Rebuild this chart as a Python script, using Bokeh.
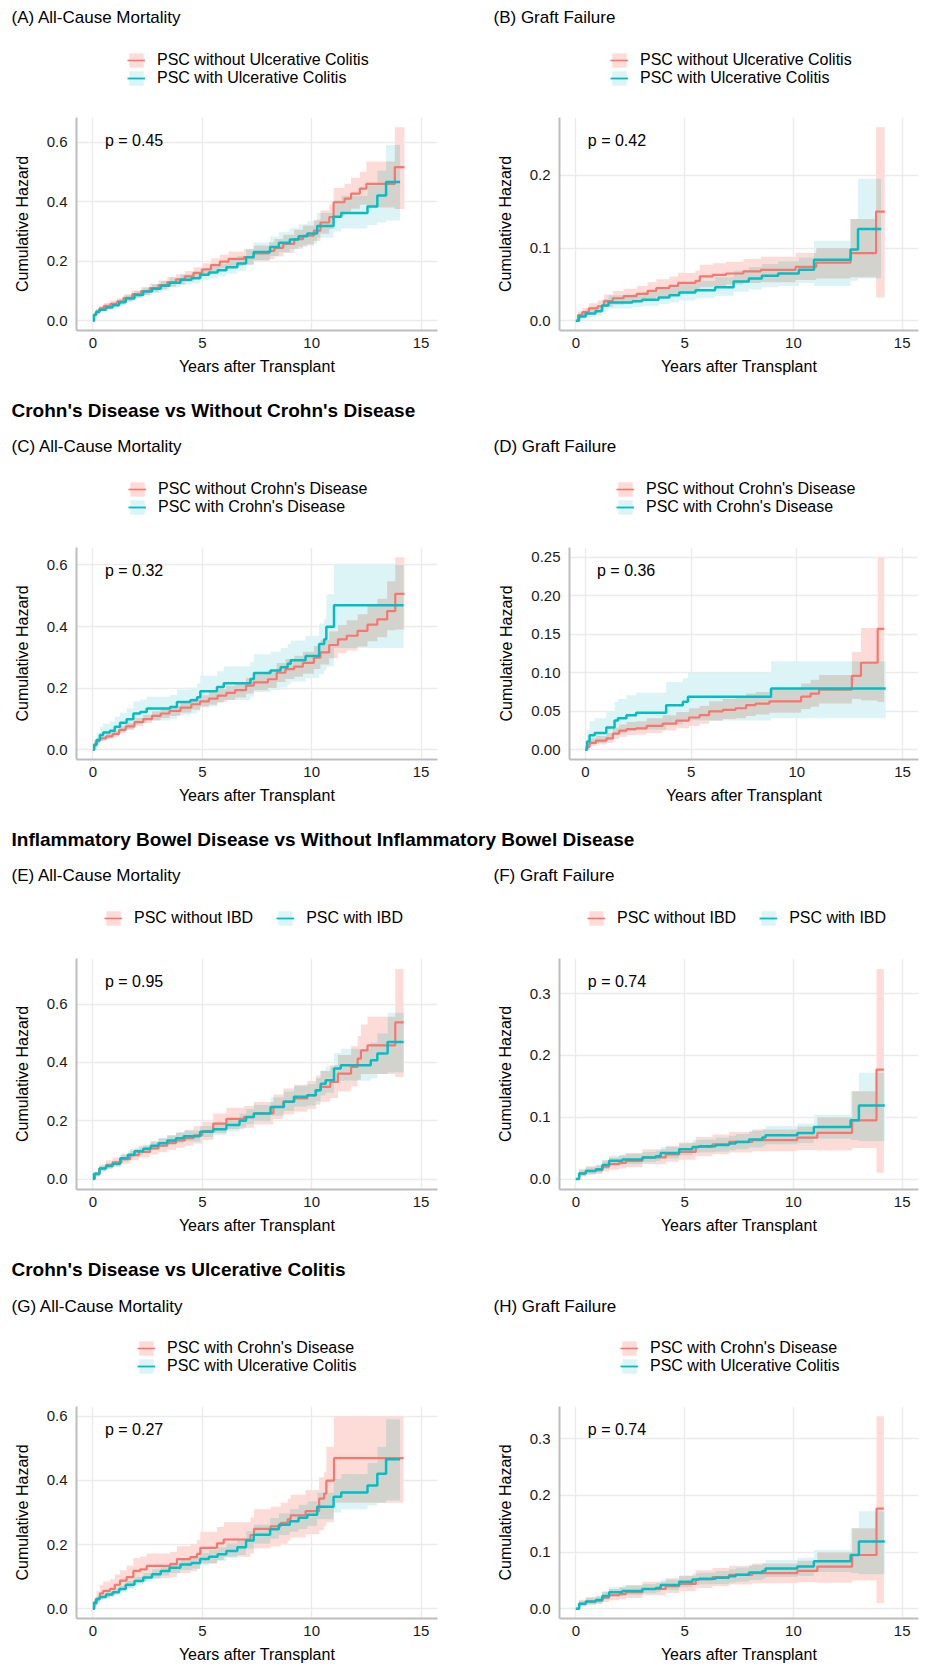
from bokeh.plotting import figure
from bokeh.models import Range1d, Legend, LegendItem, Label, FixedTicker, PrintfTickFormatter
from bokeh.layouts import column, row
from bokeh.embed import file_html
from bokeh.resources import INLINE

FONT = "Liberation Sans"
RED = "#F8766D"
TEAL = "#00BFC4"
RED_BAND = "#FDDCD7"
TEAL_BAND = "#DCF4F5"
GRAY_BAND = "#D3D3CE"
NAN = float("nan")

# ---------------- data ----------------
x_ticks = [0, 5, 10, 15]
x_limits = [0, 15]
ticks_mort = [0.0, 0.2, 0.4, 0.6]
ticks_graft_b = [0.0, 0.1, 0.2]
ticks_graft_d = [0.0, 0.05, 0.10, 0.15, 0.20, 0.25]
ticks_graft_f = [0.0, 0.1, 0.2, 0.3]

# All-cause mortality, PSC without ulcerative colitis
mort_no_uc_t = [0.0, 0.05, 0.15, 0.3, 0.5, 0.8, 1.1, 1.4, 1.8, 2.2, 2.6, 3.0, 3.4, 3.8, 4.2, 4.6, 5.0, 5.4, 5.8, 6.2, 6.9, 7.35, 8.05, 8.3, 8.7, 9.2, 9.6, 10.1, 10.4, 10.8, 11.0, 11.5, 11.8, 12.2, 12.5, 13.8, 14.24]
mort_no_uc_est = [0.0, 0.02, 0.032, 0.042, 0.05, 0.057, 0.065, 0.077, 0.09, 0.1, 0.11, 0.12, 0.13, 0.139, 0.149, 0.161, 0.173, 0.187, 0.199, 0.208, 0.214, 0.226, 0.235, 0.245, 0.258, 0.274, 0.286, 0.303, 0.33, 0.348, 0.398, 0.41, 0.427, 0.444, 0.46, 0.516, 0.516]
mort_no_uc_lo = [0.0, 0.014, 0.025, 0.034, 0.041, 0.048, 0.055, 0.066, 0.078, 0.087, 0.096, 0.105, 0.114, 0.122, 0.131, 0.142, 0.153, 0.165, 0.176, 0.184, 0.189, 0.2, 0.207, 0.216, 0.228, 0.242, 0.253, 0.268, 0.292, 0.308, 0.352, 0.362, 0.376, 0.39, 0.38, 0.375, 0.375]
mort_no_uc_hi = [0.0, 0.028, 0.04, 0.051, 0.06, 0.067, 0.076, 0.089, 0.102, 0.113, 0.124, 0.135, 0.147, 0.156, 0.167, 0.18, 0.193, 0.209, 0.222, 0.233, 0.24, 0.253, 0.264, 0.275, 0.289, 0.306, 0.32, 0.339, 0.37, 0.39, 0.446, 0.46, 0.48, 0.5, 0.535, 0.65, 0.65]

# All-cause mortality, PSC with ulcerative colitis
mort_uc_t = [0.0, 0.05, 0.15, 0.3, 0.6, 0.9, 1.2, 1.5, 1.9, 2.3, 2.7, 3.1, 3.5, 4.0, 4.5, 4.9, 5.3, 5.7, 6.1, 6.6, 7.0, 7.35, 8.1, 8.5, 9.0, 9.4, 9.8, 10.25, 11.0, 11.35, 12.55, 13.0, 13.4, 14.04]
mort_uc_est = [0.0, 0.02, 0.03, 0.037, 0.045, 0.052, 0.062, 0.075, 0.087, 0.098, 0.108, 0.118, 0.128, 0.138, 0.143, 0.155, 0.162, 0.17, 0.18, 0.192, 0.213, 0.231, 0.248, 0.262, 0.273, 0.284, 0.293, 0.318, 0.349, 0.362, 0.384, 0.421, 0.466, 0.466]
mort_uc_lo = [0.0, 0.014, 0.023, 0.03, 0.037, 0.043, 0.052, 0.064, 0.075, 0.085, 0.094, 0.103, 0.112, 0.121, 0.125, 0.136, 0.142, 0.149, 0.158, 0.168, 0.187, 0.203, 0.218, 0.23, 0.24, 0.249, 0.257, 0.279, 0.3, 0.31, 0.322, 0.33, 0.337, 0.337]
mort_uc_hi = [0.0, 0.027, 0.038, 0.045, 0.054, 0.062, 0.073, 0.087, 0.1, 0.112, 0.123, 0.134, 0.145, 0.156, 0.162, 0.175, 0.183, 0.192, 0.204, 0.218, 0.242, 0.263, 0.283, 0.298, 0.311, 0.324, 0.335, 0.362, 0.405, 0.42, 0.455, 0.505, 0.59, 0.59]

# Graft failure, PSC without ulcerative colitis
graft_no_uc_t = [0.0, 0.1, 0.3, 0.6, 1.0, 1.3, 1.7, 2.2, 2.8, 3.3, 3.7, 4.3, 4.7, 5.5, 5.7, 6.3, 6.9, 7.7, 8.5, 10.1, 11.05, 12.63, 13.8, 14.2]
graft_no_uc_est = [0.0, 0.008, 0.012, 0.017, 0.02, 0.027, 0.031, 0.034, 0.037, 0.041, 0.045, 0.048, 0.052, 0.055, 0.061, 0.063, 0.065, 0.068, 0.07, 0.074, 0.08, 0.093, 0.15, 0.15]
graft_no_uc_lo = [0.0, 0.004, 0.007, 0.011, 0.013, 0.019, 0.022, 0.024, 0.027, 0.03, 0.033, 0.036, 0.039, 0.042, 0.046, 0.048, 0.05, 0.052, 0.053, 0.056, 0.058, 0.06, 0.032, 0.032]
graft_no_uc_hi = [0.0, 0.013, 0.018, 0.024, 0.028, 0.036, 0.041, 0.044, 0.048, 0.053, 0.057, 0.061, 0.066, 0.069, 0.077, 0.079, 0.081, 0.085, 0.088, 0.093, 0.1, 0.14, 0.266, 0.266]

# Graft failure, PSC with ulcerative colitis
graft_uc_t = [0.0, 0.15, 0.45, 0.9, 1.2, 1.5, 2.6, 3.05, 3.8, 4.3, 4.75, 5.5, 6.4, 7.25, 7.95, 8.55, 9.3, 10.25, 10.95, 12.63, 12.97, 14.04]
graft_uc_est = [0.0, 0.006, 0.01, 0.013, 0.021, 0.025, 0.027, 0.029, 0.032, 0.035, 0.039, 0.042, 0.046, 0.054, 0.058, 0.062, 0.065, 0.07, 0.084, 0.098, 0.126, 0.126]
graft_uc_lo = [0.0, 0.002, 0.005, 0.007, 0.013, 0.017, 0.019, 0.02, 0.023, 0.025, 0.028, 0.031, 0.034, 0.04, 0.043, 0.046, 0.048, 0.052, 0.048, 0.055, 0.058, 0.058]
graft_uc_hi = [0.0, 0.011, 0.016, 0.019, 0.03, 0.035, 0.037, 0.04, 0.043, 0.047, 0.051, 0.055, 0.06, 0.069, 0.074, 0.078, 0.082, 0.087, 0.11, 0.14, 0.195, 0.195]

# All-cause mortality, PSC without Crohn's disease
mort_no_cd_t = [0.0, 0.05, 0.15, 0.3, 0.6, 0.9, 1.2, 1.5, 1.9, 2.3, 2.7, 3.1, 3.5, 4.0, 4.5, 4.9, 5.3, 5.7, 6.1, 6.5, 7.0, 7.35, 8.0, 8.4, 8.8, 9.2, 9.6, 10.1, 10.4, 10.8, 11.2, 11.6, 12.1, 12.55, 13.0, 13.45, 13.82, 14.24]
mort_no_cd_est = [0.0, 0.018, 0.028, 0.037, 0.044, 0.052, 0.065, 0.076, 0.09, 0.1, 0.11, 0.118, 0.126, 0.137, 0.148, 0.157, 0.166, 0.176, 0.185, 0.194, 0.208, 0.219, 0.229, 0.25, 0.262, 0.27, 0.282, 0.299, 0.316, 0.34, 0.358, 0.37, 0.386, 0.406, 0.423, 0.45, 0.506, 0.506]
mort_no_cd_lo = [0.0, 0.012, 0.021, 0.029, 0.036, 0.043, 0.055, 0.065, 0.078, 0.087, 0.096, 0.103, 0.11, 0.12, 0.13, 0.138, 0.146, 0.155, 0.162, 0.17, 0.183, 0.193, 0.201, 0.22, 0.23, 0.237, 0.247, 0.262, 0.277, 0.297, 0.313, 0.322, 0.335, 0.352, 0.365, 0.388, 0.39, 0.39]
mort_no_cd_hi = [0.0, 0.025, 0.036, 0.046, 0.053, 0.062, 0.076, 0.088, 0.103, 0.114, 0.125, 0.134, 0.143, 0.155, 0.167, 0.177, 0.187, 0.198, 0.208, 0.218, 0.234, 0.247, 0.258, 0.282, 0.295, 0.305, 0.318, 0.337, 0.357, 0.385, 0.405, 0.42, 0.44, 0.467, 0.49, 0.547, 0.625, 0.625]

# All-cause mortality, PSC with Crohn's disease
mort_cd_t = [0.0, 0.06, 0.17, 0.32, 0.47, 0.78, 1.0, 1.24, 1.54, 1.85, 2.16, 2.46, 3.53, 3.84, 4.45, 4.76, 4.91, 5.67, 5.98, 7.2, 7.36, 8.12, 8.58, 8.9, 9.04, 9.72, 10.34, 10.57, 10.67, 11.02, 14.2]
mort_cd_est = [0.0, 0.016, 0.032, 0.048, 0.056, 0.062, 0.075, 0.088, 0.099, 0.118, 0.123, 0.134, 0.139, 0.155, 0.161, 0.171, 0.19, 0.204, 0.216, 0.23, 0.249, 0.257, 0.268, 0.279, 0.291, 0.304, 0.343, 0.359, 0.399, 0.469, 0.469]
mort_cd_lo = [0.0, 0.006, 0.016, 0.028, 0.034, 0.039, 0.048, 0.058, 0.066, 0.082, 0.086, 0.095, 0.099, 0.112, 0.117, 0.125, 0.141, 0.152, 0.162, 0.172, 0.188, 0.194, 0.203, 0.212, 0.222, 0.232, 0.245, 0.258, 0.27, 0.33, 0.33]
mort_cd_hi = [0.0, 0.035, 0.055, 0.075, 0.085, 0.092, 0.107, 0.12, 0.135, 0.158, 0.163, 0.172, 0.178, 0.195, 0.202, 0.215, 0.24, 0.255, 0.27, 0.285, 0.31, 0.318, 0.33, 0.343, 0.355, 0.37, 0.41, 0.425, 0.505, 0.6, 0.6]

# Graft failure, PSC without Crohn's disease
graft_no_cd_t = [0.0, 0.05, 0.2, 0.5, 1.0, 1.3, 1.6, 1.95, 2.4, 2.9, 3.65, 4.3, 4.9, 5.4, 5.85, 6.5, 7.1, 7.6, 8.05, 8.7, 10.2, 10.65, 11.05, 12.6, 13.03, 13.82, 14.13]
graft_no_cd_est = [0.0, 0.004, 0.009, 0.012, 0.015, 0.021, 0.025, 0.027, 0.028, 0.031, 0.034, 0.038, 0.042, 0.045, 0.05, 0.052, 0.054, 0.058, 0.06, 0.063, 0.069, 0.073, 0.078, 0.096, 0.113, 0.157, 0.157]
graft_no_cd_lo = [0.0, 0.001, 0.005, 0.007, 0.009, 0.014, 0.017, 0.019, 0.02, 0.022, 0.025, 0.028, 0.031, 0.034, 0.038, 0.04, 0.041, 0.044, 0.046, 0.048, 0.053, 0.056, 0.06, 0.066, 0.064, 0.062, 0.062]
graft_no_cd_hi = [0.0, 0.009, 0.015, 0.018, 0.022, 0.029, 0.033, 0.036, 0.037, 0.041, 0.045, 0.049, 0.054, 0.057, 0.063, 0.066, 0.068, 0.073, 0.075, 0.079, 0.086, 0.091, 0.097, 0.127, 0.158, 0.25, 0.25]

# Graft failure, PSC with Crohn's disease
graft_cd_t = [0.0, 0.08, 0.2, 0.44, 0.99, 1.38, 1.54, 1.94, 2.4, 3.82, 4.61, 4.85, 8.78, 14.2]
graft_cd_est = [0.0, 0.011, 0.019, 0.022, 0.029, 0.038, 0.041, 0.045, 0.048, 0.058, 0.0625, 0.069, 0.0797, 0.0797]
graft_cd_lo = [0.0, 0.003, 0.007, 0.009, 0.013, 0.019, 0.021, 0.024, 0.026, 0.033, 0.036, 0.038, 0.041, 0.041]
graft_cd_hi = [0.0, 0.025, 0.037, 0.041, 0.05, 0.062, 0.066, 0.071, 0.074, 0.088, 0.093, 0.1, 0.115, 0.115]

# All-cause mortality, PSC without IBD
mort_no_ibd_t = [0.0, 0.09, 0.3, 0.6, 0.9, 1.3, 1.7, 2.1, 2.6, 3.0, 3.4, 3.8, 4.2, 4.6, 5.0, 5.5, 6.1, 6.9, 7.35, 8.25, 8.7, 9.2, 9.8, 10.2, 10.4, 10.85, 11.2, 11.8, 12.1, 12.25, 12.55, 13.82, 14.2]
mort_no_ibd_est = [0.0, 0.016, 0.036, 0.048, 0.057, 0.068, 0.082, 0.093, 0.105, 0.114, 0.124, 0.132, 0.14, 0.15, 0.164, 0.19, 0.206, 0.212, 0.225, 0.247, 0.265, 0.276, 0.287, 0.304, 0.316, 0.333, 0.361, 0.384, 0.413, 0.441, 0.458, 0.537, 0.537]
mort_no_ibd_lo = [0.0, 0.008, 0.025, 0.035, 0.043, 0.052, 0.064, 0.074, 0.084, 0.092, 0.1, 0.107, 0.114, 0.122, 0.134, 0.157, 0.171, 0.176, 0.187, 0.206, 0.222, 0.231, 0.24, 0.255, 0.265, 0.278, 0.3, 0.318, 0.34, 0.36, 0.36, 0.35, 0.35]
mort_no_ibd_hi = [0.0, 0.025, 0.05, 0.064, 0.074, 0.087, 0.103, 0.115, 0.129, 0.14, 0.151, 0.16, 0.169, 0.181, 0.196, 0.225, 0.244, 0.25, 0.264, 0.29, 0.31, 0.323, 0.336, 0.355, 0.37, 0.39, 0.425, 0.455, 0.49, 0.53, 0.556, 0.72, 0.72]

# All-cause mortality, PSC with IBD
mort_ibd_t = [0.0, 0.05, 0.3, 0.6, 0.9, 1.25, 1.6, 1.9, 2.3, 2.65, 3.0, 3.4, 3.8, 4.15, 4.9, 5.5, 6.1, 6.7, 7.0, 7.36, 8.12, 8.73, 9.19, 9.8, 10.18, 10.41, 10.64, 11.02, 11.33, 12.7, 13.0, 13.47, 14.2]
mort_ibd_est = [0.0, 0.018, 0.036, 0.045, 0.052, 0.071, 0.083, 0.095, 0.104, 0.114, 0.123, 0.132, 0.14, 0.147, 0.162, 0.171, 0.185, 0.2, 0.213, 0.225, 0.247, 0.265, 0.282, 0.287, 0.304, 0.327, 0.339, 0.379, 0.39, 0.407, 0.43, 0.47, 0.47]
mort_ibd_lo = [0.0, 0.012, 0.028, 0.036, 0.043, 0.06, 0.071, 0.082, 0.09, 0.1, 0.108, 0.116, 0.123, 0.129, 0.143, 0.151, 0.163, 0.176, 0.188, 0.198, 0.217, 0.233, 0.248, 0.252, 0.266, 0.286, 0.296, 0.33, 0.337, 0.345, 0.36, 0.365, 0.365]
mort_ibd_hi = [0.0, 0.025, 0.045, 0.055, 0.062, 0.083, 0.096, 0.108, 0.118, 0.129, 0.139, 0.149, 0.158, 0.166, 0.182, 0.193, 0.208, 0.225, 0.24, 0.254, 0.28, 0.3, 0.32, 0.326, 0.346, 0.372, 0.386, 0.432, 0.447, 0.468, 0.5, 0.57, 0.57]

# Graft failure, PSC without IBD
graft_no_ibd_t = [0.0, 0.15, 0.46, 0.92, 1.22, 1.53, 1.99, 2.3, 3.06, 4.13, 4.75, 5.51, 6.28, 7.04, 8.11, 10.18, 11.1, 12.7, 13.82, 14.16]
graft_no_ibd_est = [0.0, 0.009, 0.013, 0.0145, 0.02, 0.024, 0.026, 0.0295, 0.035, 0.04, 0.044, 0.052, 0.056, 0.06, 0.063, 0.067, 0.0746, 0.095, 0.177, 0.177]
graft_no_ibd_lo = [0.0, 0.004, 0.007, 0.008, 0.012, 0.015, 0.017, 0.019, 0.024, 0.028, 0.031, 0.037, 0.04, 0.043, 0.045, 0.047, 0.046, 0.05, 0.01, 0.01]
graft_no_ibd_hi = [0.0, 0.016, 0.021, 0.023, 0.03, 0.035, 0.038, 0.042, 0.048, 0.054, 0.059, 0.068, 0.072, 0.076, 0.08, 0.085, 0.1, 0.142, 0.34, 0.34]

# Graft failure, PSC with IBD
graft_ibd_t = [0.0, 0.15, 0.46, 0.92, 1.22, 1.53, 2.14, 3.06, 3.67, 3.9, 4.75, 5.36, 5.66, 6.43, 7.04, 7.35, 7.96, 8.57, 8.72, 10.18, 10.94, 12.63, 13.01, 14.2]
graft_ibd_est = [0.0, 0.009, 0.013, 0.0156, 0.0225, 0.0295, 0.0317, 0.035, 0.037, 0.042, 0.048, 0.052, 0.053, 0.055, 0.0574, 0.06, 0.064, 0.067, 0.071, 0.0746, 0.084, 0.095, 0.119, 0.119]
graft_ibd_lo = [0.0, 0.005, 0.008, 0.01, 0.016, 0.022, 0.024, 0.027, 0.029, 0.033, 0.038, 0.042, 0.043, 0.044, 0.046, 0.048, 0.051, 0.053, 0.056, 0.058, 0.065, 0.063, 0.061, 0.061]
graft_ibd_hi = [0.0, 0.014, 0.019, 0.022, 0.03, 0.038, 0.041, 0.044, 0.046, 0.052, 0.058, 0.063, 0.064, 0.067, 0.07, 0.073, 0.078, 0.081, 0.086, 0.09, 0.104, 0.142, 0.172, 0.172]

labels_uc = ["PSC without Ulcerative Colitis", "PSC with Ulcerative Colitis"]
labels_cd = ["PSC without Crohn's Disease", "PSC with Crohn's Disease"]
labels_ibd = ["PSC without IBD", "PSC with IBD"]
labels_cd_uc = ["PSC with Crohn's Disease", "PSC with Ulcerative Colitis"]
headings = ["Crohn's Disease vs Without Crohn's Disease",
            "Inflammatory Bowel Disease vs Without Inflammatory Bowel Disease",
            "Crohn's Disease vs Ulcerative Colitis"]
panel_titles = ["(A) All-Cause Mortality", "(B) Graft Failure", "(C) All-Cause Mortality", "(D) Graft Failure",
                "(E) All-Cause Mortality", "(F) Graft Failure", "(G) All-Cause Mortality", "(H) Graft Failure"]
p_values = ["p = 0.45", "p = 0.42", "p = 0.32", "p = 0.36", "p = 0.95", "p = 0.74", "p = 0.27", "p = 0.74"]


def series(t, est, lo, hi):
    return {"t": t, "est": est, "lo": lo, "hi": hi}


MORT_NO_UC = series(mort_no_uc_t, mort_no_uc_est, mort_no_uc_lo, mort_no_uc_hi)
MORT_UC = series(mort_uc_t, mort_uc_est, mort_uc_lo, mort_uc_hi)
GRAFT_NO_UC = series(graft_no_uc_t, graft_no_uc_est, graft_no_uc_lo, graft_no_uc_hi)
GRAFT_UC = series(graft_uc_t, graft_uc_est, graft_uc_lo, graft_uc_hi)
MORT_NO_CD = series(mort_no_cd_t, mort_no_cd_est, mort_no_cd_lo, mort_no_cd_hi)
MORT_CD = series(mort_cd_t, mort_cd_est, mort_cd_lo, mort_cd_hi)
GRAFT_NO_CD = series(graft_no_cd_t, graft_no_cd_est, graft_no_cd_lo, graft_no_cd_hi)
GRAFT_CD = series(graft_cd_t, graft_cd_est, graft_cd_lo, graft_cd_hi)
MORT_NO_IBD = series(mort_no_ibd_t, mort_no_ibd_est, mort_no_ibd_lo, mort_no_ibd_hi)
MORT_IBD = series(mort_ibd_t, mort_ibd_est, mort_ibd_lo, mort_ibd_hi)
GRAFT_NO_IBD = series(graft_no_ibd_t, graft_no_ibd_est, graft_no_ibd_lo, graft_no_ibd_hi)
GRAFT_IBD = series(graft_ibd_t, graft_ibd_est, graft_ibd_lo, graft_ibd_hi)


# ---------------- helpers ----------------
def step_xy(t, v):
    xs, ys = [], []
    for i in range(len(t) - 1):
        xs += [t[i], t[i + 1]]
        ys += [v[i], v[i]]
    return xs, ys


def value_at(t, v, x):
    idx = 0
    for i, ti in enumerate(t):
        if ti <= x:
            idx = i
    return v[idx]


def overlap(s1, s2):
    end = min(s1["t"][-1], s2["t"][-1])
    grid = sorted(set(x for x in s1["t"] + s2["t"] if x <= end))
    if grid[-1] < end:
        grid.append(end)
    lo, hi = [], []
    for g in grid:
        l = max(value_at(s1["t"], s1["lo"], g), value_at(s2["t"], s2["lo"], g))
        h = min(value_at(s1["t"], s1["hi"], g), value_at(s2["t"], s2["hi"], g))
        lo.append(l)
        hi.append(max(h, l))
    return grid, lo, hi


def blank_figure(width, height):
    f = figure(width=width, height=height, x_range=Range1d(0, 1), y_range=Range1d(0, 1),
               output_backend="svg", toolbar_location=None, min_border=0)
    f.axis.visible = False
    f.grid.visible = False
    f.outline_line_color = None
    return f


def add_text(f, text, x, y, size, bold=False):
    f.add_layout(Label(x=x, y=y, x_units="screen", y_units="screen", text=text,
                       text_font=FONT, text_font_size=size,
                       text_font_style="bold" if bold else "normal",
                       text_color="#000000", text_baseline="middle", text_align="left"))


def add_legend(f, labels, horizontal, x, y):
    # legend keys styled like the panels' bands and curves
    rb = f.varea(x=[NAN], y1=[NAN], y2=[NAN], fill_color=RED_BAND)
    rl = f.line(x=[NAN], y=[NAN], line_color=RED, line_width=1.6)
    tb = f.varea(x=[NAN], y1=[NAN], y2=[NAN], fill_color=TEAL_BAND)
    tl = f.line(x=[NAN], y=[NAN], line_color=TEAL, line_width=1.8)
    legend = Legend(items=[LegendItem(label=labels[0], renderers=[rb, rl]),
                           LegendItem(label=labels[1], renderers=[tb, tl])],
                    orientation="horizontal" if horizontal else "vertical",
                    location=(x, y))
    legend.border_line_color = None
    legend.background_fill_alpha = 0
    legend.label_text_font = FONT
    legend.label_text_font_size = "16px"
    legend.label_text_color = "#000000"
    legend.glyph_width = 18
    legend.glyph_height = 18
    legend.label_height = 18
    legend.label_standoff = 12
    legend.spacing = 23 if horizontal else 0
    legend.padding = 0
    legend.margin = 0
    f.add_layout(legend, "center")


def make_panel(s_red, s_teal, ptext, yticks, yfmt, width, height, bl, br, bt, bb):
    ymin = min(min(s_red["lo"]), min(s_teal["lo"]))
    ymax = max(max(s_red["hi"]), max(s_teal["hi"]))
    ypad = 0.05 * (ymax - ymin)
    xpad = 0.05 * (x_limits[1] - x_limits[0])
    p = figure(width=width, height=height, title=None,
               x_range=Range1d(x_limits[0] - xpad, x_limits[1] + xpad),
               y_range=Range1d(ymin - ypad, ymax + ypad),
               output_backend="svg", toolbar_location=None,
               min_border_left=bl, min_border_right=br,
               min_border_top=bt, min_border_bottom=bb)
    p.outline_line_color = None
    frame_h = height - bt - bb

    for s, col in ((s_red, RED_BAND), (s_teal, TEAL_BAND)):
        xs, y1 = step_xy(s["t"], s["lo"])
        _, y2 = step_xy(s["t"], s["hi"])
        p.varea(x=xs, y1=y1, y2=y2, fill_color=col, fill_alpha=1.0)
    g, olo, ohi = overlap(s_red, s_teal)
    xs, y1 = step_xy(g, olo)
    _, y2 = step_xy(g, ohi)
    p.varea(x=xs, y1=y1, y2=y2, fill_color=GRAY_BAND, fill_alpha=1.0)

    p.step(x=s_red["t"], y=s_red["est"], mode="after", line_color=RED, line_width=2.2)
    p.step(x=s_teal["t"], y=s_teal["est"], mode="after", line_color=TEAL, line_width=2.5)

    p.xaxis.ticker = FixedTicker(ticks=x_ticks)
    p.yaxis.ticker = FixedTicker(ticks=yticks)
    p.yaxis.formatter = PrintfTickFormatter(format=yfmt)
    p.xaxis.axis_label = "Years after Transplant"
    p.yaxis.axis_label = "Cumulative Hazard"
    p.axis.axis_line_color = "#BDBDBD"
    p.axis.axis_line_width = 2
    p.axis.major_tick_line_color = None
    p.axis.minor_tick_line_color = None
    p.axis.major_tick_out = 0
    p.axis.major_tick_in = 0
    p.axis.major_label_text_font = FONT
    p.axis.major_label_text_font_size = "15px"
    p.axis.major_label_text_color = "#1A1A1A"
    p.axis.axis_label_text_font = FONT
    p.axis.axis_label_text_font_size = "16px"
    p.axis.axis_label_text_font_style = "normal"
    p.axis.axis_label_text_color = "#000000"
    p.xaxis.major_label_standoff = 7
    p.xaxis.axis_label_standoff = 7
    p.yaxis.major_label_standoff = 9
    p.yaxis.axis_label_standoff = 13
    p.grid.grid_line_color = "#EBEBEB"
    p.grid.grid_line_width = 1.4

    p.add_layout(Label(x=0.55, y=frame_h - 23, x_units="data", y_units="screen",
                       text=ptext, text_font=FONT, text_font_size="16px",
                       text_color="#000000", text_baseline="middle", text_align="left"))
    return p


# ---------------- layout (pixels) ----------------
PAGE_W = 926
WL = 463
WR = PAGE_W - WL
BL_LEFT, BL_RIGHT, BL_RIGHT_D = 76, 96, 106
BR_LEFT, BR_RIGHT = 26, 8
TOP_GAP = 5
TITLE_X = (11, WL + 30)

# header height, heading centre from top (None = no heading), title offset above frame,
# legend gap above frame, frame height, bottom border
rows = [
    (112, None, 100, 30, 213, 62),
    (150, 18, 101, 31, 212, 62),
    (132, 18, 83, 31, 231, 61),
    (151, 19, 100, 31, 212, 52),
]

panel_specs = [
    (MORT_NO_UC, MORT_UC, labels_uc, ticks_mort, "%.1f", False, BL_LEFT, 51),
    (GRAFT_NO_UC, GRAFT_UC, labels_uc, ticks_graft_b, "%.1f", False, BL_RIGHT, 51),
    (MORT_NO_CD, MORT_CD, labels_cd, ticks_mort, "%.1f", False, BL_LEFT, 52),
    (GRAFT_NO_CD, GRAFT_CD, labels_cd, ticks_graft_d, "%.2f", False, BL_RIGHT_D, 47),
    (MORT_NO_IBD, MORT_IBD, labels_ibd, ticks_mort, "%.1f", True, BL_LEFT, 28),
    (GRAFT_NO_IBD, GRAFT_IBD, labels_ibd, ticks_graft_f, "%.1f", True, BL_RIGHT, 28),
    (MORT_CD, MORT_UC, labels_cd_uc, ticks_mort, "%.1f", False, BL_LEFT, 61),
    (GRAFT_NO_IBD, GRAFT_IBD, labels_cd_uc, ticks_graft_f, "%.1f", False, BL_RIGHT, 61),
]

children = []
for r, (hh, head_y, tdy, ldy, fh, bb) in enumerate(rows):
    header = blank_figure(PAGE_W, hh)
    if head_y is not None:
        add_text(header, headings[r - 1], 11, hh - head_y, "19px", bold=True)
    panels = []
    for side in (0, 1):
        k = 2 * r + side
        s_red, s_teal, labels, yticks, yfmt, horizontal, bl, leg_dx = panel_specs[k]
        x0 = 0 if side == 0 else WL
        add_text(header, panel_titles[k], TITLE_X[side], tdy - TOP_GAP, "17px")
        add_legend(header, labels, horizontal, x0 + bl + leg_dx, ldy - TOP_GAP)
        width = WL if side == 0 else WR
        br = BR_LEFT if side == 0 else BR_RIGHT
        panels.append(make_panel(s_red, s_teal, p_values[k], yticks, yfmt, width,
                                 TOP_GAP + fh + bb, bl, br, TOP_GAP, bb))
    children.append(header)
    children.append(row(*panels))

layout = column(*children)

open("out.html", "w").write(file_html(layout, INLINE))
